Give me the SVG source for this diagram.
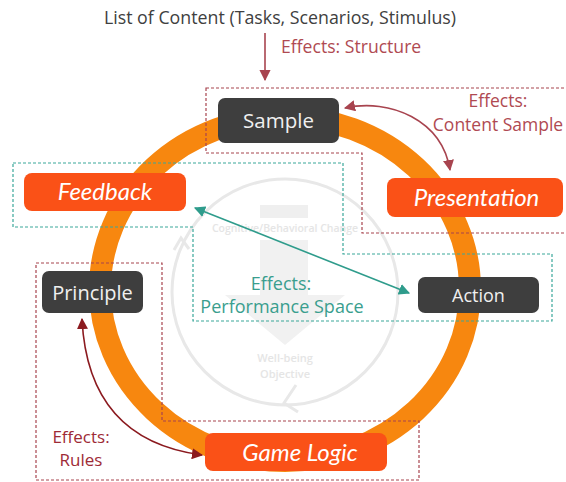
<svg xmlns="http://www.w3.org/2000/svg" width="566" height="482" viewBox="0 0 566 482">
<style>
.lbl{font-family:"Open Sans","Liberation Sans",sans-serif;}
.dark rect{fill:#3e3e3e;}
.dark text{fill:#f0f0f0;font-family:"Open Sans","Liberation Sans",sans-serif;text-anchor:middle;}
.hot rect{fill:#fa5117;}
.hot text{fill:#ffffff;font-family:Lato,"Open Sans","Liberation Sans",sans-serif;font-style:italic;font-size:24px;text-anchor:middle;}
.rdash{fill:none;stroke:#a8444f;stroke-width:1.2;stroke-dasharray:3 2;}
.tdash{fill:none;stroke:#3aa79a;stroke-width:1.2;stroke-dasharray:3 2;}
.red{fill:#b04a52;}
.teal{fill:#3a9e8e;}
.wm{fill:#e5e5e5;font-family:"Open Sans","Liberation Sans",sans-serif;text-anchor:middle;font-weight:600;}
</style>
<defs>
<marker id="ar" viewBox="0 0 10 10" refX="9" refY="5" markerWidth="7" markerHeight="7" orient="auto-start-reverse" markerUnits="strokeWidth"><path d="M0,0 L10,5 L0,10 z" fill="#a8444f"/></marker>
<marker id="ad" viewBox="0 0 10 10" refX="9" refY="5" markerWidth="7" markerHeight="7" orient="auto-start-reverse" markerUnits="strokeWidth"><path d="M0,0 L10,5 L0,10 z" fill="#8b1a1f"/></marker>
<marker id="at" viewBox="0 0 10 10" refX="9" refY="5" markerWidth="7" markerHeight="7" orient="auto-start-reverse" markerUnits="strokeWidth"><path d="M0,0 L10,5 L0,10 z" fill="#2f9c8c"/></marker>
</defs>

<g id="watermark">
<circle cx="285" cy="292" r="113" fill="none" stroke="#e8e8e8" stroke-width="3"/>
<polyline points="174,250 181,238 189,249" fill="none" stroke="#e8e8e8" stroke-width="3"/>
<polyline points="296,385 284,403 298,412" fill="none" stroke="#e8e8e8" stroke-width="3"/>
<rect x="260" y="205" width="48" height="13" fill="#efefef"/>
<rect x="260" y="240" width="48" height="55" fill="#f1f1f1"/>
<polygon points="225,295 345,295 285,345" fill="#f1f1f1"/>
<text class="wm" x="285" y="232" font-size="10.5">Cognitive/Behavioral Change</text>
<text class="wm" x="285" y="362" font-size="11">Well-being</text>
<text class="wm" x="285" y="378" font-size="11">Objective</text>
</g>

<g id="ring">
<ellipse cx="285" cy="289" rx="185" ry="172" fill="none" stroke="#f7870f" stroke-width="22"/>
</g>

<g id="regions">
<path class="rdash" d="M206,88 H570 V233 H362 V153 H206 Z"/>
<path class="tdash" d="M13,163 H343 V254 H552 V321 H193 V227 H13 Z"/>
<path class="rdash" d="M36,263 H162 V421 H419 V480 H36 Z"/>
</g>

<g id="title">
<text class="lbl" x="280" y="24" font-size="17.8" fill="#404040" text-anchor="middle">List of Content (Tasks, Scenarios, Stimulus)</text>
</g>

<g id="connectors">
<line x1="265" y1="33" x2="265" y2="80" stroke="#a8444f" stroke-width="1.6" marker-end="url(#ar)"/>
<path d="M345,108 C390,98 442,120 450,170" fill="none" stroke="#a8444f" stroke-width="1.6" marker-start="url(#ar)" marker-end="url(#ar)"/>
<line x1="195" y1="208" x2="409" y2="293" stroke="#2f9c8c" stroke-width="1.6" marker-start="url(#at)" marker-end="url(#at)"/>
<path d="M82,319 Q88,440 202,455" fill="none" stroke="#8b1a1f" stroke-width="1.6" marker-start="url(#ad)" marker-end="url(#ad)"/>
</g>

<g id="labels">
<text class="lbl red" x="281" y="53" font-size="17.6">Effects: Structure</text>
<text class="lbl red" x="498" y="107" font-size="17.5" text-anchor="middle">Effects:</text>
<text class="lbl red" x="498" y="131" font-size="17.5" text-anchor="middle">Content Sample</text>
<text class="lbl teal" x="281" y="290" font-size="18" text-anchor="middle">Effects:</text>
<text class="lbl teal" x="282" y="313" font-size="18" text-anchor="middle">Performance Space</text>
<text class="lbl" x="81" y="443" font-size="17" fill="#9e2b36" text-anchor="middle">Effects:</text>
<text class="lbl" x="81" y="466" font-size="17" fill="#9e2b36" text-anchor="middle">Rules</text>
</g>

<g id="sample" class="dark"><rect x="218" y="98" width="121" height="45" rx="7"/><text x="278.5" y="128" font-size="20.5">Sample</text></g>
<g id="feedback" class="hot"><rect x="24" y="173" width="162" height="38" rx="8"/><text x="105" y="200">Feedback</text></g>
<g id="presentation" class="hot"><rect x="387" y="178" width="176" height="39" rx="8"/><text x="476.5" y="206">Presentation</text></g>
<g id="principle" class="dark"><rect x="42" y="271" width="101" height="42" rx="7"/><text x="92.5" y="300" font-size="20">Principle</text></g>
<g id="action" class="dark"><rect x="418" y="277" width="121" height="36" rx="7"/><text x="478.5" y="302" font-size="18">Action</text></g>
<g id="gamelogic" class="hot"><rect x="205" y="433" width="182" height="38" rx="8"/><text x="300" y="461">Game Logic</text></g>
</svg>
